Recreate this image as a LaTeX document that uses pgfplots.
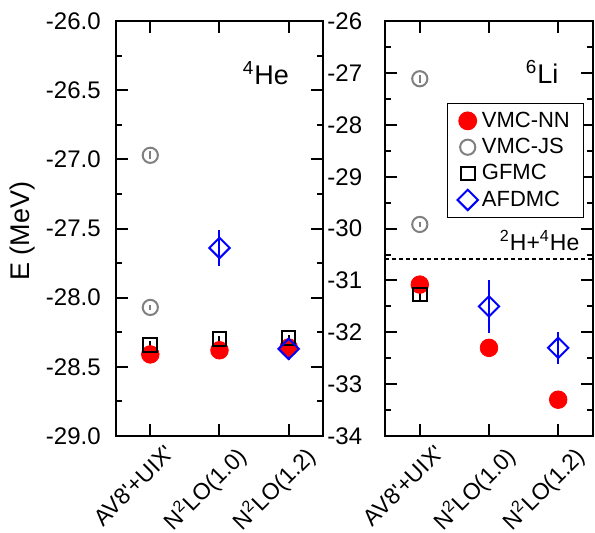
\documentclass[border=0pt]{standalone}
\usepackage{fontspec}
\setmainfont{Liberation Sans}
\usepackage{pgfplots}
\pgfplotsset{compat=1.18}

\definecolor{jsgray}{RGB}{128,128,128}

\pgfplotsset{
  panel/.style={
    scale only axis, width=103.8pt, height=207.4pt,
    xmin=-0.5, xmax=2.5, xtick={0,1,2},
    xticklabels={AV8\textquotesingle+UIX\textquotesingle, N\textsuperscript{2}LO(1.0), N\textsuperscript{2}LO(1.2)},
    xticklabel style={inner sep=0pt, xshift=7pt, yshift=-3.5pt, rotate=45, anchor=north east,
      font=\fontsize{11.5}{13}\selectfont},
    axis line style={line width=1pt},
    every tick/.style={black, line width=1pt},
    major tick length=6pt, minor tick length=3pt,
    minor y tick num=1,
    yticklabel style={font=\fontsize{12}{14}\selectfont},
    /pgf/number format/assume math mode=true,
  },
  errs/.style={error bars/.cd, y dir=both, y explicit, error mark=none,
    error bar style={line width=1pt, #1}},
  nn/.style={only marks, mark=*, mark size=4.4pt, red, mark options={fill=red, draw=red}, errs=red},
  js/.style={only marks, mark=o, mark size=3.8pt, jsgray, mark options={line width=1pt}, errs=jsgray},
  gf/.style={only marks, mark=square, mark size=3.4pt, black, mark options={line width=1pt}, errs=black},
  af/.style={only marks, mark=square, mark size=3.6pt, blue, mark options={rotate=45, line width=1pt}, errs=blue},
}

% 4He
\pgfplotstableread{
x y e
0 -28.41 0.02
1 -28.38 0.02
2 -28.36 0.02
}\heNN
\pgfplotstableread{
x y e
0 -26.97 0.03
0 -28.07 0.02
}\heJS
\pgfplotstableread{
x y e
0 -28.34 0.03
1 -28.30 0.02
2 -28.29 0.02
}\heGF
\pgfplotstableread{
x y e
1 -27.64 0.13
2 -28.37 0.08
}\heAF

% 6Li
\pgfplotstableread{
x y e
0 -31.08 0.03
1 -32.30 0.03
2 -33.30 0.03
}\liNN
\pgfplotstableread{
x y e
0 -27.11 0.08
0 -29.92 0.05
}\liJS
\pgfplotstableread{
x y e
0 -31.27 0.10
}\liGF
\pgfplotstableread{
x y e
1 -31.50 0.51
2 -32.30 0.31
}\liAF

\begin{document}
\begin{tikzpicture}
\path[use as bounding box] (-57.85pt,-48.5pt) rectangle (239.65pt,218pt);

\begin{axis}[panel,
  at={(0pt,0pt)}, anchor=south west,
  ymin=-29, ymax=-26, ytick={-29,-28.5,...,-26},
  yticklabel style={xshift=-4pt, /pgf/number format/.cd, fixed, fixed zerofill, precision=1},
  ylabel={E (MeV)},
  ylabel style={at={(axis description cs:-0.447,0.494)}, anchor=center, rotate=0, font=\fontsize{13.5}{16}\selectfont},
]
\addplot[nn] table[x=x, y=y, y error=e] {\heNN};
\addplot[js] table[x=x, y=y, y error=e] {\heJS};
\addplot[gf] table[x=x, y=y, y error=e] {\heGF};
\addplot[af] table[x=x, y=y, y error=e] {\heAF};
\node[anchor=base east, inner sep=0pt, font=\fontsize{13.5}{16}\selectfont] at (axis description cs:0.836,0.847) {\textsuperscript{4}He};
\end{axis}

\begin{axis}[panel,
  at={(134.75pt,0pt)}, anchor=south west,
  ymin=-34, ymax=-26, ytick={-34,-33,...,-26},
  yticklabel style={xshift=-8pt, /pgf/number format/.cd, fixed, precision=0},
  legend style={at={(0.96,0.8026)}, anchor=north east,
    font=\fontsize{11}{13}\selectfont, draw=black, line width=0.6pt,
    row sep=0pt, inner xsep=5pt, inner ysep=2pt},
  legend cell align=left,
]
\addplot[nn] table[x=x, y=y, y error=e] {\liNN};
\addplot[js] table[x=x, y=y, y error=e] {\liJS};
\addplot[gf] table[x=x, y=y, y error=e] {\liGF};
\addplot[af] table[x=x, y=y, y error=e] {\liAF};
\addplot[black, line width=0.9pt, dash pattern=on 2pt off 1.5pt, forget plot] coordinates {(-0.5,-30.58) (2.5,-30.58)};
\legend{VMC-NN, VMC-JS, GFMC, AFDMC}
\node[anchor=base east, inner sep=0pt, font=\fontsize{13.5}{16}\selectfont] at (axis description cs:0.836,0.849) {\textsuperscript{6}Li};
\node[anchor=base east, inner sep=0pt, font=\fontsize{11.5}{14}\selectfont] at (axis description cs:0.937,0.448) {\textsuperscript{2}H+\textsuperscript{4}He};
\end{axis}
\end{tikzpicture}
\end{document}
